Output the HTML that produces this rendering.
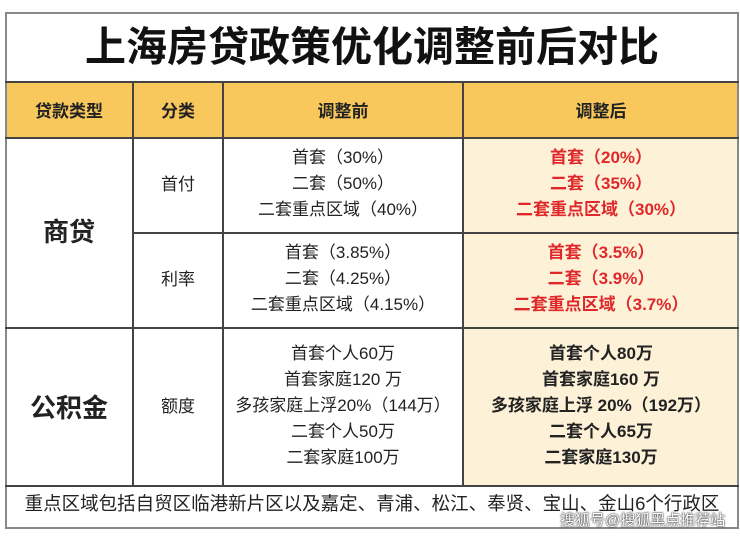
<!DOCTYPE html>
<html><head><meta charset="utf-8"><style>
body{margin:0;width:740px;height:537px;background:#fff;position:relative;overflow:hidden;font-family:"Liberation Sans","Noto Sans CJK SC",sans-serif;color:#222}
.a{position:absolute}
.l{position:absolute;background:#444}
.t{position:absolute;text-align:center;white-space:nowrap}
.c{font-size:17px;line-height:26px}
.r{color:#e0282a;font-weight:bold}
.b{font-weight:bold}
</style></head><body>
<div class="a" style="left:5px;top:82px;width:734px;height:55px;background:#f8c85c"></div>
<div class="a" style="left:463px;top:137px;width:276px;height:349px;background:#fdf1d8"></div>
<div class="l" style="left:5px;top:12px;width:734px;height:2px;background:#888"></div>
<div class="l" style="left:5px;top:12px;width:2px;height:516px;background:#888"></div>
<div class="l" style="left:737px;top:12px;width:2px;height:516px;background:#888"></div>
<div class="l" style="left:5px;top:527px;width:734px;height:2px;background:#888"></div>
<div class="l" style="left:5px;top:81px;width:734px;height:2px"></div>
<div class="l" style="left:5px;top:137px;width:734px;height:2px"></div>
<div class="l" style="left:133px;top:232px;width:606px;height:2px"></div>
<div class="l" style="left:5px;top:327px;width:734px;height:2px"></div>
<div class="l" style="left:5px;top:485px;width:734px;height:2px"></div>
<div class="l" style="left:132px;top:82px;width:2px;height:404px"></div>
<div class="l" style="left:222px;top:82px;width:2px;height:404px"></div>
<div class="l" style="left:462px;top:82px;width:2px;height:404px"></div>

<div class="t" style="left:5px;width:734px;top:20px;font-size:41px;font-weight:bold;line-height:54px;color:#111">上海房贷政策优化调整前后对比</div>
<div class="t b" style="left:5px;width:128px;top:97px;font-size:17px">贷款类型</div>
<div class="t b" style="left:133px;width:90px;top:97px;font-size:17px">分类</div>
<div class="t b" style="left:223px;width:240px;top:97px;font-size:17px">调整前</div>
<div class="t b" style="left:463px;width:276px;top:97px;font-size:17px">调整后</div>

<div class="t b" style="left:5px;width:128px;top:215px;font-size:26px;line-height:34px">商贷</div>
<div class="t b" style="left:5px;width:128px;top:391px;font-size:26px;line-height:34px">公积金</div>
<div class="t c" style="left:133px;width:90px;top:172px">首付</div>
<div class="t c" style="left:133px;width:90px;top:267px">利率</div>
<div class="t c" style="left:133px;width:90px;top:394px">额度</div>

<div class="t c" style="left:223px;width:240px;top:145px">首套（30%）<br>二套（50%）<br>二套重点区域（40%）</div>
<div class="t c r" style="left:463px;width:276px;top:145px">首套（20%）<br>二套（35%）<br>二套重点区域（30%）</div>
<div class="t c" style="left:223px;width:240px;top:240px">首套（3.85%）<br>二套（4.25%）<br>二套重点区域（4.15%）</div>
<div class="t c r" style="left:463px;width:276px;top:240px">首套（3.5%）<br>二套（3.9%）<br>二套重点区域（3.7%）</div>
<div class="t c" style="left:223px;width:240px;top:341px">首套个人60万<br>首套家庭120 万<br>多孩家庭上浮20%（144万）<br>二套个人50万<br>二套家庭100万</div>
<div class="t c b" style="left:463px;width:276px;top:341px">首套个人80万<br>首套家庭160 万<br>多孩家庭上浮 20%（192万）<br>二套个人65万<br>二套家庭130万</div>

<div class="t" style="left:5px;width:734px;top:491px;font-size:18.5px;line-height:26px">重点区域包括自贸区临港新片区以及嘉定、青浦、松江、奉贤、宝山、金山6个行政区</div>
<div class="t" style="left:560px;top:512px;font-size:15px;line-height:18px;color:#fff;text-shadow:0 0 2px #333,0 0 1px #000">搜狐号@搜狐黑点推荐站</div>
</body></html>
